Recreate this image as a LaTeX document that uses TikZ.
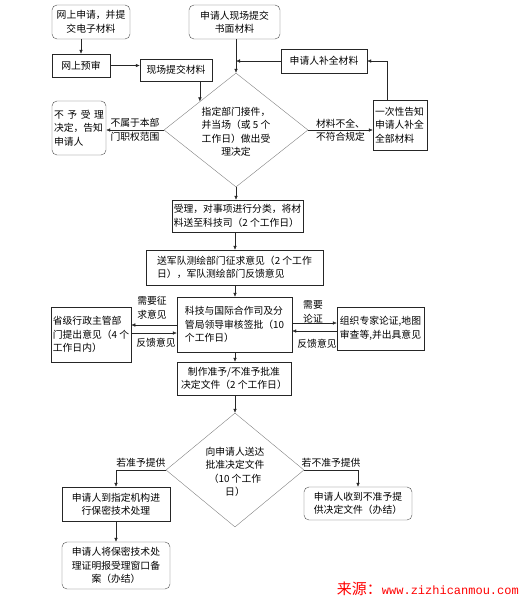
\documentclass[tikz,border=0pt]{standalone}
\usepackage{fontspec}
\setmainfont{Noto Sans CJK SC}
\newfontfamily\urlfont{Liberation Mono}
\usetikzlibrary{shapes.geometric,arrows.meta}

\begin{document}
\begin{tikzpicture}[
    x=1pt, y=-1pt,
    font=\fontsize{9.8}{13.5}\selectfont,
    block/.style={rectangle, draw=black!85, inner sep=2pt, align=center},
    rblock/.style={block, draw=black!70, rounded corners=5pt},
    decision/.style={diamond, draw=black!50, inner sep=0pt},
    note/.style={inner sep=0pt, align=left},
    line/.style={draw=black!85, -{Latex[length=4pt,width=3.5pt]}}
]
    \useasboundingbox (0,0) rectangle (523,598);
    \coordinate (axis) at (235,0);

    \node [rblock, minimum width=78pt, minimum height=34pt] (online) at (91,22) {网上申请，并提\\交电子材料};
    \node [rblock, minimum width=91pt, minimum height=34pt] (onsite) at (234.5,22) {申请人现场提交\\书面材料};
    \node [block, minimum width=58pt, minimum height=23pt] (precheck) at (81,65.5) {网上预审};
    \node [block, minimum width=72pt, minimum height=22pt] (submit) at (176,70) {现场提交材料};
    \node [block, minimum width=86pt, minimum height=24pt] (supply) at (324,61) {申请人补全材料};
    \node [decision, minimum width=144pt, minimum height=114pt] (accept) at (236,130) {};
    \node [note, align=center] (accepttxt) at (236,132) {指定部门接件，\\并当场（或 5 个\\工作日）做出受\\理决定};
    \node [rblock, minimum width=54pt, minimum height=54pt, text width=50pt, align=left] (reject) at (79,128) {\makebox[50pt][s]{不\hfil 予\hfil 受\hfil 理}\\决定，告知\\申请人};
    \node [block, minimum width=54pt, minimum height=50pt, text width=50pt, align=left] (notify) at (400,125) {一次性告知\\申请人补全\\全部材料};
    \node [block, minimum width=131pt, minimum height=32pt, align=left] (accepted) at (237.5,216) {受理，对事项进行分类，将材\\料送至科技司（2 个工作日）};
    \node [block, minimum width=177pt, minimum height=35pt, align=left] (army) at (234.5,267.5) {送军队测绘部门征求意见（2 个工作\\日），军队测绘部门反馈意见};
    \node [block, minimum width=115pt, minimum height=55pt, align=left] (review) at (234.5,324.5) {科技与国际合作司及分\\管局领导审核签批（10\\个工作日）};
    \node [block, minimum width=80pt, minimum height=55pt, align=left] (province) at (91,334.5) {省级行政主管部\\门提出意见（4 个\\工作日内）};
    \node [block, minimum width=87pt, minimum height=43pt, align=left] (expert) at (380.5,328.5) {组织专家论证,地图\\审查等,并出具意见};
    \node [block, minimum width=114pt, minimum height=33pt] (draft) at (234,378.5) {制作准予/不准予批准\\决定文件（2 个工作日）};
    \node [decision, minimum width=138pt, minimum height=114pt] (deliver) at (235,470) {};
    \node [note, align=center] (delivertxt) at (235,472) {向申请人送达\\批准决定文件\\（10 个工作\\日）};
    \node [block, minimum width=108pt, minimum height=34pt] (secure) at (116,504) {申请人到指定机构进\\行保密技术处理};
    \node [rblock, minimum width=108pt, minimum height=47pt] (record) at (116,565.5) {申请人将保密技术处\\理证明报受理窗口备\\案（办结）};
    \node [rblock, minimum width=108pt, minimum height=33pt, align=left] (refuse) at (358,503.5) {申请人收到不准予提\\供决定文件（办结）};

    \path [line] (online.south -| precheck.north) -- (precheck.north);
    \path [line] (precheck.east) -- (precheck.east -| submit.west);
    \path [line] (submit.south -| accept.north west) -- (accept.north west);
    \path [line] (onsite.south -| accept.north) -- (accept.north);
    \path [line] (supply.west) -- (supply.west -| accept.north);
    \path [line] (accept.west) -- (accept.west -| reject.east)
        node [midway, note, align=center] (outscope) {不属于本部\\门职权范围};
    \path [line] (accept.east) -- (accept.east -| notify.west)
        node [midway, note, align=center] (incomplete) {材料不全、\\不符合规定};
    \path [line] ([xshift=-13pt]notify.north) |- (supply.east);
    \path [line] (accept.south) -- (accepted.north -| accept.south);
    \path [line] (accepted.south -| axis) -- (army.north -| axis);
    \path [line] (army.south -| axis) -- (review.north -| axis);
    \path [line] (review.south -| axis) -- (draft.north -| axis);
    \path [line] (draft.south -| axis) -- (deliver.north);

    \path [line] ([yshift=-0.5pt]review.west) -- ([yshift=-0.5pt]review.west -| province.east);
    \path [line] ([yshift=-8.5pt]review.west -| province.east) -- ([yshift=-8.5pt]review.west);
    \node [note] (askprov) at (152,308) {需要征\\求意见};
    \node [note] (backprov) at (156,343) {反馈意见};
    \path [line] ([yshift=1.5pt]review.east) -- ([yshift=1.5pt]review.east -| expert.west);
    \path [line] ([yshift=-6.5pt]review.east -| expert.west) -- ([yshift=-6.5pt]review.east);
    \node [note] (askexp) at (313,312) {需要\\论证};
    \node [note] (backexp) at (317,344) {反馈意见};

    \path [line] (deliver.west) -| (secure.north)
        node [pos=0.25, above=3pt, note] (grant) {若准予提供};
    \path [line] (deliver.east) -| (refuse.north)
        node [pos=0.25, above=3pt, note] (deny) {若不准予提供};
    \path [line] (secure.south) -- (record.north);

    \node [anchor=base east, inner sep=0pt, text=red] (source) at (519,594)
        {{\fontsize{15}{15}\selectfont 来源：}{\urlfont\fontsize{12}{15}\selectfont www.zizhicanmou.com}};
\end{tikzpicture}
\end{document}
